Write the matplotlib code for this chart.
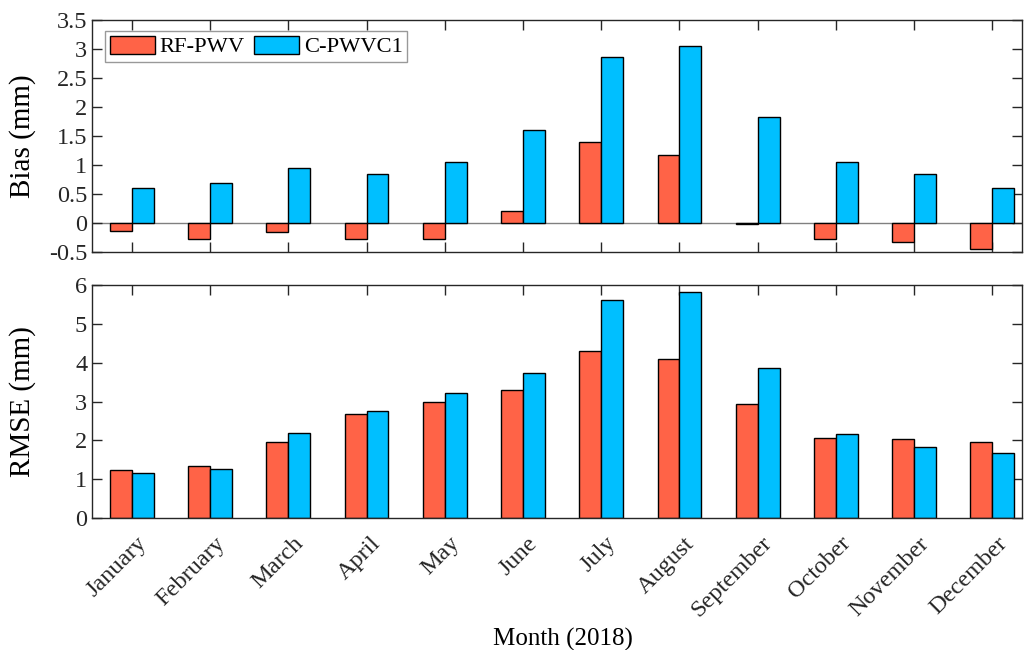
import numpy as np
import matplotlib.pyplot as plt
from matplotlib.transforms import ScaledTranslation

plt.rcParams['font.family'] = ['Liberation Serif', 'DejaVu Serif']

months = ["January", "February", "March", "April", "May", "June", "July",
          "August", "September", "October", "November", "December"]

# Bias (mm)
bias_rf = [-0.13, -0.27, -0.16, -0.27, -0.28, 0.20, 1.40, 1.17, -0.01, -0.28, -0.33, -0.44]
bias_c = [0.61, 0.69, 0.94, 0.84, 1.06, 1.60, 2.87, 3.05, 1.83, 1.05, 0.85, 0.60]

# RMSE (mm)
rmse_rf = [1.24, 1.34, 1.95, 2.69, 2.99, 3.30, 4.29, 4.09, 2.93, 2.07, 2.03, 1.96]
rmse_c = [1.15, 1.25, 2.18, 2.76, 3.22, 3.73, 5.61, 5.82, 3.87, 2.16, 1.83, 1.67]

c_rf = "#ff6347"
c_c = "#00bfff"
x = np.arange(1, 13)
w = 0.28

fig = plt.figure(figsize=(10.26, 6.5), dpi=100)
ax1 = fig.add_axes([92/1026, 1-252/650, 930/1026, 232/650])
ax2 = fig.add_axes([92/1026, 1-518/650, 930/1026, 233/650])

ax1.axhline(0, color="#808080", lw=1, zorder=1)
ax1.bar(x - w/2, bias_rf, w, color=c_rf, edgecolor="k", lw=1, label="RF-PWV", zorder=2)
ax1.bar(x + w/2, bias_c, w, color=c_c, edgecolor="k", lw=1, label="C-PWVC1", zorder=2)
ax1.set_ylim(-0.5, 3.5)
ax1.set_yticks(np.arange(-0.5, 3.51, 0.5))
ax1.set_yticklabels(["-0.5", "0", "0.5", "1", "1.5", "2", "2.5", "3", "3.5"])
ax1.set_ylabel("Bias (mm)", fontsize=21)
leg = ax1.legend(loc="upper left", ncol=2, fontsize=16.2, frameon=True, fancybox=False,
                 edgecolor="#808080", handlelength=2.0, handleheight=0.85,
                 columnspacing=0.45, handletextpad=0.2, borderpad=0.2,
                 borderaxespad=0, bbox_to_anchor=(0.014, 0.952))
leg.get_frame().set_linewidth(1)

ax2.bar(x - w/2, rmse_rf, w, color=c_rf, edgecolor="k", lw=1, zorder=2)
ax2.bar(x + w/2, rmse_c, w, color=c_c, edgecolor="k", lw=1, zorder=2)
ax2.set_ylim(0, 6)
ax2.set_yticks(range(0, 7))
ax2.set_ylabel("RMSE (mm)", fontsize=21)
ax2.set_xlabel("Month (2018)", fontsize=18)
ax2.xaxis.set_label_coords(0.506, -0.47)

for ax in (ax1, ax2):
    ax.set_xlim(0.49, 12.38)
    ax.set_xticks(x)
    ax.tick_params(direction="in", top=True, right=True, length=7, width=1,
                   labelsize=17.5, colors="#262626")
    ax.yaxis.set_label_coords(-0.060, 0.5)
    for s in ax.spines.values():
        s.set_color("#262626")
        s.set_linewidth(1)

ax1.set_xticklabels([])
ax2.set_xticklabels(months, rotation=45, ha="right", rotation_mode="anchor")
shift = ScaledTranslation(4/100, -10/100, fig.dpi_scale_trans)
for lab in ax2.get_xticklabels():
    lab.set_transform(lab.get_transform() + shift)

fig.savefig("out.png", dpi=100)
